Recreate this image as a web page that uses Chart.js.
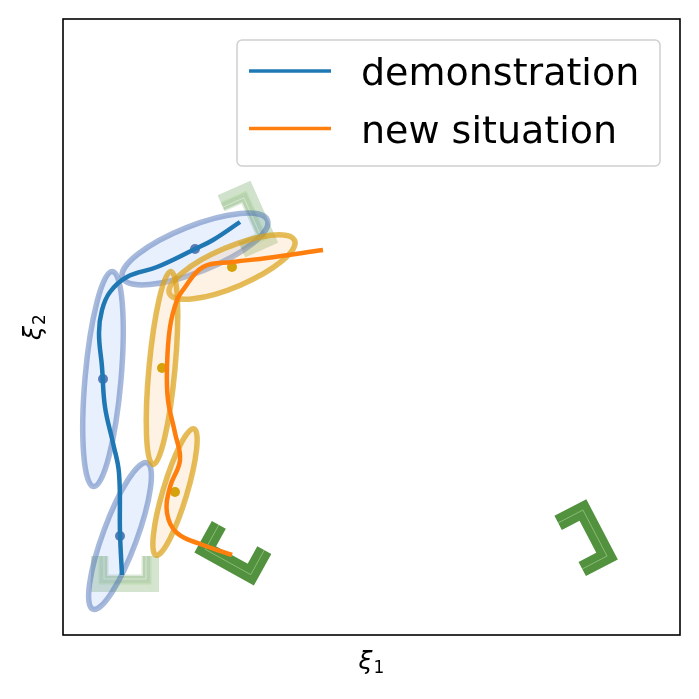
<!DOCTYPE html>
<html>
<head>
<meta charset="utf-8">
<script src="https://cdn.jsdelivr.net/npm/chart.js@4.4.0/dist/chart.umd.min.js"></script>
<style>
  html, body { margin: 0; padding: 0; background: #fff; }
  #wrap { width: 699px; height: 699px; }
</style>
</head>
<body>
<div id="wrap"><canvas id="chart" width="699" height="699"></canvas></div>
<script>
// axis limits (arbitrary units, no ticks shown)
const X_MAX = 617, Y_MAX = 616;

// trajectories
const demoX = [59, 57, 56, 50, 42, 39, 36, 39, 47, 64, 94, 130, 150, 177];
const demoY = [60, 102, 162, 192, 228, 268, 302, 325, 343, 358, 368, 385, 395, 413];
const newX = [169, 140, 114, 104, 107, 117, 112, 105, 104, 107, 114, 120, 140, 170, 204, 260];
const newY = [80, 90, 102, 122, 148, 175, 202, 235, 268, 308, 335, 345, 368, 373, 377, 385];

// gaussians: centre, semi-axes, angle (deg)
const demoCx = [132, 40, 57];
const demoCy = [386, 256, 99];
const demoA = [78, 108, 78];
const demoB = [23, 18, 17];
const demoAng = [21.7, 85, 69.7];

const newCx = [169, 99, 112];
const newCy = [368, 267, 143];
const newA = [68, 97, 66];
const newB = [20, 13, 12];
const newAng = [23, 84.7, 73.3];

// frames: centre of the base, rotation (deg), opacity
const frameX = [62, 194, 165, 532];
const frameY = [51, 420, 73, 102];
const frameAng = [0, 114, -29, 117.6];
const frameAlpha = [0.25, 0.27, 1, 1];
const FRAME_PATH = [[-26, 28], [-26, 0], [26, 0], [26, 28]];
const FRAME_INNER = [[-21, 28], [-21, 5], [21, 5], [21, 28]];

const pts = (xs, ys) => xs.map((v, i) => ({ x: v, y: ys[i] }));

function tracePath(ctx, p) {
  ctx.beginPath();
  ctx.moveTo(p[0][0], p[0][1]);
  for (let i = 1; i < p.length; i++) ctx.lineTo(p[i][0], p[i][1]);
}

function framePixels(xs, ys, i, shape) {
  const t = frameAng[i] * Math.PI / 180, c = Math.cos(t), s = Math.sin(t);
  return shape.map(([lx, ly]) => [
    xs.getPixelForValue(frameX[i] + lx * c - ly * s),
    ys.getPixelForValue(frameY[i] + lx * s + ly * c)]);
}

function drawFrame(ctx, xs, ys, i) {
  const p = framePixels(xs, ys, i, FRAME_PATH);
  ctx.lineJoin = "miter"; ctx.lineCap = "butt";
  ctx.globalAlpha = frameAlpha[i];
  tracePath(ctx, p); ctx.strokeStyle = "#52923f"; ctx.lineWidth = 16; ctx.stroke();
  if (frameAlpha[i] < 1) {
    // faded frames: a few overlapping copies
    const q = framePixels(xs, ys, i, FRAME_INNER);
    ctx.globalAlpha = 0.2;
    tracePath(ctx, q); ctx.lineWidth = 9; ctx.stroke();
    ctx.globalAlpha = 0.7;
    tracePath(ctx, q); ctx.strokeStyle = "#e4f0dc"; ctx.lineWidth = 1; ctx.stroke();
  }
  ctx.globalAlpha = frameAlpha[i] < 1 ? 0.6 : 0.55;
  tracePath(ctx, p); ctx.strokeStyle = "#b4dc9c"; ctx.lineWidth = 1; ctx.stroke();
  ctx.globalAlpha = 1;
}

function drawEllipse(ctx, xs, ys, cx, cy, a, b, ang, fill, edge) {
  const t = ang * Math.PI / 180;
  const px = xs.getPixelForValue(cx), py = ys.getPixelForValue(cy);
  const ax = xs.getPixelForValue(cx + a * Math.cos(t)) - px;
  const ay = ys.getPixelForValue(cy + a * Math.sin(t)) - py;
  const bx = xs.getPixelForValue(cx - b * Math.sin(t)) - px;
  const by = ys.getPixelForValue(cy + b * Math.cos(t)) - py;
  ctx.beginPath();
  ctx.ellipse(px, py, Math.hypot(ax, ay), Math.hypot(bx, by), Math.atan2(ay, ax), 0, Math.PI * 2);
  ctx.fillStyle = fill; ctx.fill();
  ctx.strokeStyle = edge; ctx.lineWidth = 5.5; ctx.stroke();
}

function drawXi(ctx, sub) {
  ctx.textAlign = "left"; ctx.textBaseline = "alphabetic"; ctx.fillStyle = "#000";
  ctx.font = 'italic 25px "DejaVu Sans"';
  const w1 = ctx.measureText("ξ").width;
  ctx.font = '17px "DejaVu Sans"';
  const w2 = ctx.measureText(sub).width;
  const x0 = -(w1 + 1 + w2) / 2;
  ctx.font = 'italic 25px "DejaVu Sans"';
  ctx.fillText("ξ", x0, 0);
  ctx.font = '17px "DejaVu Sans"';
  ctx.fillText(sub, x0 + w1 + 1, 4);
}

const shapesPlugin = {
  id: "shapes",
  beforeDatasetsDraw(chart) {
    const { ctx, chartArea: ca, scales: { x, y } } = chart;
    ctx.save();
    ctx.beginPath(); ctx.rect(ca.left, ca.top, ca.right - ca.left, ca.bottom - ca.top); ctx.clip();
    frameX.forEach((_, i) => drawFrame(ctx, x, y, i));
    demoCx.forEach((_, i) => drawEllipse(ctx, x, y, demoCx[i], demoCy[i], demoA[i], demoB[i], demoAng[i],
      "rgba(100,150,240,0.15)", "rgba(60,100,175,0.45)"));
    newCx.forEach((_, i) => drawEllipse(ctx, x, y, newCx[i], newCy[i], newA[i], newB[i], newAng[i],
      "rgba(250,190,120,0.2)", "rgba(218,160,20,0.7)"));
    ctx.restore();
  },
  afterDraw(chart) {
    const { ctx, chartArea: ca } = chart;
    ctx.save();
    // axes box
    ctx.strokeStyle = "#000"; ctx.lineWidth = 1.6;
    ctx.strokeRect(ca.left, ca.top, ca.right - ca.left, ca.bottom - ca.top);

    // legend
    ctx.beginPath();
    ctx.roundRect(237, 40, 423, 126, 5);
    ctx.fillStyle = "rgba(255,255,255,0.8)"; ctx.fill();
    ctx.strokeStyle = "#d0d0d0"; ctx.lineWidth = 1.5; ctx.stroke();
    chart.data.datasets.slice(0, 2).forEach((ds, i) => {
      const ly = 71 + i * 57.5;
      ctx.beginPath(); ctx.moveTo(249, ly); ctx.lineTo(331, ly);
      ctx.strokeStyle = ds.borderColor; ctx.lineWidth = 3.5; ctx.stroke();
      ctx.fillStyle = "#000"; ctx.font = '38px "DejaVu Sans"';
      ctx.textAlign = "left"; ctx.textBaseline = "alphabetic";
      ctx.fillText(ds.label, 361, ly + 14);
    });

    // axis labels
    ctx.save(); ctx.translate((ca.left + ca.right) / 2, 669); drawXi(ctx, "1"); ctx.restore();
    ctx.save(); ctx.translate(41, (ca.top + ca.bottom) / 2); ctx.rotate(-Math.PI / 2); drawXi(ctx, "2"); ctx.restore();
    ctx.restore();
  }
};

new Chart(document.getElementById("chart"), {
  type: "scatter",
  data: {
    datasets: [
      { type: "line", label: "demonstration", data: pts(demoX, demoY), borderColor: "#1f77b4",
        borderWidth: 4.5, pointRadius: 0, tension: 0.4, fill: false, order: 1 },
      { type: "line", label: "new situation", data: pts(newX, newY), borderColor: "#ff7f0e",
        borderWidth: 4.5, pointRadius: 0, tension: 0.4, fill: false, order: 0 },
      { label: "demo means", data: pts(demoCx, demoCy), pointRadius: 5, backgroundColor: "#5a7cb6",
        borderWidth: 0, order: 3 },
      { label: "new means", data: pts(newCx, newCy), pointRadius: 5, backgroundColor: "#d6a20c",
        borderWidth: 0, order: 2 },
    ],
  },
  options: {
    responsive: false, animation: false, devicePixelRatio: 1,
    layout: { padding: { left: 63, top: 19, right: 19, bottom: 64 } },
    plugins: { legend: { display: false }, tooltip: { enabled: false } },
    scales: {
      x: { type: "linear", min: 0, max: X_MAX, display: false },
      y: { type: "linear", min: 0, max: Y_MAX, display: false },
    },
  },
  plugins: [shapesPlugin],
});
</script>
</body>
</html>
